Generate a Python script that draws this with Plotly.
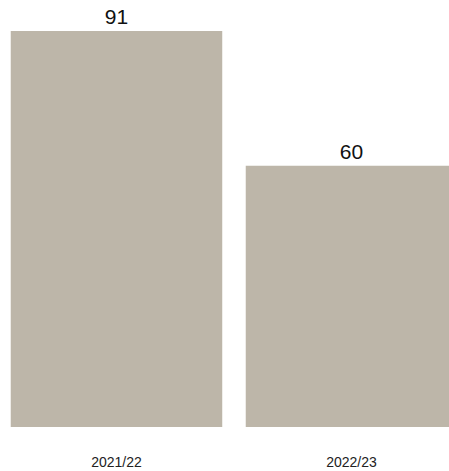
import plotly.graph_objects as go

seasons = ["2021/22", "2022/23"]
values = [91, 60]

bar_color = "#BDB6A9"

fig = go.Figure(
    go.Bar(
        x=seasons,
        y=values,
        marker=dict(color=bar_color, line=dict(width=0)),
        text=[str(v) for v in values],
        textposition="outside",
        textfont=dict(family="Liberation Sans, Arial, sans-serif", size=21, color="#111111"),
        cliponaxis=False,
        hoverinfo="skip",
    )
)

fig.update_layout(
    width=449,
    height=471,
    margin=dict(l=0, r=0, t=20, b=44),
    paper_bgcolor="white",
    plot_bgcolor="white",
    bargap=0.1,
    showlegend=False,
    font=dict(family="Liberation Sans, Arial, sans-serif", color="#222222"),
    xaxis=dict(
        range=[-0.4957, 1.4149],
        showgrid=False,
        zeroline=False,
        showline=False,
        ticks="",
        tickfont=dict(size=14, color="#222222"),
        ticklabelstandoff=25,
        fixedrange=True,
    ),
    yaxis=dict(
        range=[0, 93.5],
        visible=False,
        fixedrange=True,
    ),
)

fig.write_html("out.html", config={"displayModeBar": False})
